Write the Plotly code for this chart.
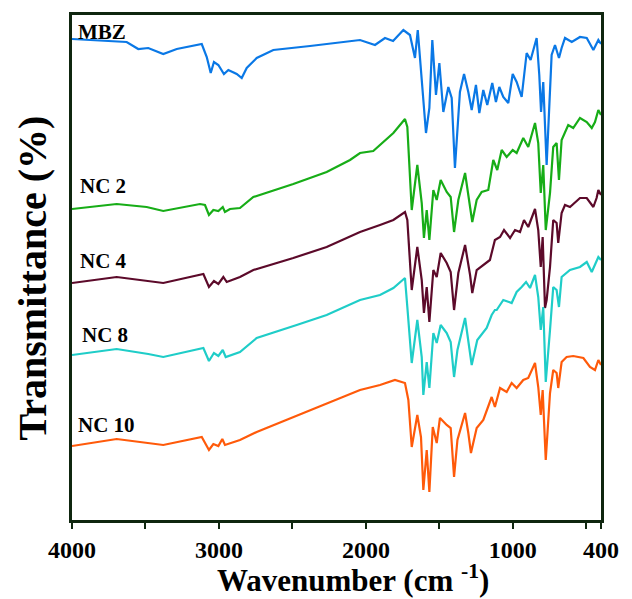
import plotly.graph_objects as go

# FTIR spectra (stacked, arbitrary transmittance offsets)
mbz_wn = [4000, 3628, 3549, 3481, 3379, 3287, 3117, 3083, 3056, 3034, 3004, 2966, 2936, 2879,
          2845, 2811, 2743, 2630, 2380, 2040, 1938, 1870, 1815, 1745, 1700, 1666, 1647, 1620,
          1591, 1568, 1548, 1523, 1500, 1473, 1439, 1416, 1394, 1360, 1332, 1303, 1280, 1251,
          1228, 1201, 1174, 1140, 1115, 1092, 1065, 1031, 1001, 974, 940, 906, 879, 838, 820,
          808, 793, 770, 736, 713, 686, 668, 645, 599, 543, 497, 452, 418, 400]
mbz_t = [481, 478, 471, 472, 466, 471, 476, 463, 447, 458, 455, 446, 450, 446,
         442, 452, 462, 470, 474, 480, 475, 482, 479, 490, 485, 462, 490, 438,
         387, 412, 480, 425, 457, 408, 433, 422, 352, 428, 446, 428, 410, 435,
         407, 430, 415, 437, 418, 433, 423, 417, 446, 438, 423, 467, 460, 482, 445,
         408, 438, 355, 465, 475, 462, 472, 482, 478, 483, 482, 470, 480, 476]

nc2_wn = [4000, 3696, 3492, 3379, 3129, 3095, 3068, 3038, 3004, 2974, 2959, 2925, 2857, 2766,
          2494, 2267, 2108, 2040, 1950, 1813, 1734, 1718, 1688, 1650, 1620, 1605, 1586, 1568,
          1541, 1518, 1491, 1450, 1423, 1400, 1371, 1325, 1291, 1276, 1246, 1212, 1167, 1133,
          1106, 1076, 1042, 1001, 974, 929, 895, 849, 827, 810, 793, 776, 747, 725, 702, 686,
          668, 623, 589, 543, 497, 463, 441, 418, 400]
nc2_t = [311, 316, 313, 309, 316, 315, 305, 310, 309, 313, 308, 311, 312, 323,
         336, 348, 360, 367, 369, 387, 401, 393, 310, 355, 317, 282, 310, 280,
         330, 320, 340, 328, 323, 288, 320, 347, 313, 298, 320, 328, 330, 360,
         350, 370, 363, 370, 367, 382, 373, 397, 377, 327, 355, 290, 327, 373, 377, 340,
         380, 395, 392, 402, 398, 392, 398, 410, 405]

nc4_wn = [4000, 3696, 3379, 3106, 3068, 3034, 3004, 2970, 2947, 2857, 2766, 2494, 2267, 2040,
          1904, 1813, 1734, 1718, 1688, 1650, 1620, 1605, 1586, 1568, 1541, 1518, 1491, 1450,
          1423, 1400, 1371, 1325, 1291, 1276, 1246, 1201, 1156, 1122, 1087, 1060, 1019, 985,
          951, 924, 895, 849, 827, 810, 797, 781, 770, 747, 725, 702, 691, 668, 645, 611,
          543, 497, 452, 430, 418, 400]
nc4_t = [237, 243, 237, 246, 233, 239, 236, 243, 238, 243, 250, 262, 273, 288,
         295, 300, 308, 300, 230, 273, 240, 207, 233, 198, 250, 243, 267, 257,
         248, 210, 247, 275, 245, 227, 250, 255, 260, 280, 283, 290, 282, 290,
         288, 300, 293, 311, 290, 253, 283, 212, 220, 253, 300, 297, 277, 307, 315, 313,
         322, 322, 313, 322, 330, 325]

nc8_wn = [4000, 3696, 3481, 3379, 3106, 3068, 3034, 3004, 2974, 2954, 2857, 2743, 2471, 2267,
          2040, 1904, 1813, 1734, 1718, 1688, 1650, 1620, 1609, 1586, 1568, 1541, 1518, 1491,
          1450, 1423, 1400, 1377, 1325, 1291, 1280, 1242, 1201, 1178, 1144, 1122, 1110, 1065,
          1008, 974, 940, 910, 883, 849, 827, 810, 793, 776, 747, 725, 702, 686, 668, 611,
          543, 497, 463, 441, 418, 400]
nc8_t = [165, 171, 166, 163, 172, 159, 167, 164, 170, 163, 168, 182, 195, 205,
         220, 225, 232, 242, 213, 157, 200, 163, 125, 158, 132, 187, 177, 195,
         187, 178, 143, 170, 202, 163, 155, 180, 187, 192, 205, 210, 210, 220,
         217, 228, 233, 238, 232, 245, 223, 190, 213, 138, 190, 233, 230, 213, 243, 250,
         253, 258, 248, 255, 263, 260]

nc10_wn = [4000, 3696, 3379, 3117, 3068, 3038, 3004, 2977, 2959, 2857, 2743, 2380, 2040, 1904,
           1802, 1734, 1711, 1688, 1650, 1625, 1609, 1586, 1568, 1545, 1518, 1496, 1450, 1423,
           1400, 1377, 1325, 1303, 1285, 1246, 1201, 1144, 1122, 1087, 1042, 1008, 974, 929,
           895, 849, 827, 810, 797, 776, 747, 725, 702, 691, 668, 634, 589, 520, 475, 441,
           418, 400]
nc10_t = [74, 81, 75, 83, 70, 76, 74, 81, 75, 80, 88, 110, 130, 135,
          140, 137, 120, 73, 105, 83, 30, 70, 28, 93, 77, 102, 95, 92,
          43, 80, 107, 87, 67, 92, 100, 123, 113, 132, 128, 137, 132, 140,
          142, 157, 133, 105, 130, 60, 127, 150, 147, 132, 158, 163, 164, 162, 153, 150,
          160, 155]

series = [
    ("MBZ", mbz_wn, mbz_t, "#0a78e6"),
    ("NC 2", nc2_wn, nc2_t, "#17ad17"),
    ("NC 4", nc4_wn, nc4_t, "#5c0a2a"),
    ("NC 8", nc8_wn, nc8_t, "#1fcdc8"),
    ("NC 10", nc10_wn, nc10_t, "#ff5a0a"),
]

# label anchor positions (paper coordinates)
label_pos = {"MBZ": (0.008, 0.966), "NC 2": (0.012, 0.661), "NC 4": (0.012, 0.512),
             "NC 8": (0.015, 0.367), "NC 10": (0.008, 0.189)}

tick_vals = [4000, 3000, 2000, 1000, 400]
tick_text = ["<b>4000</b>", "<b>3000</b>", "<b>2000</b>", "<b>1000</b>", "<b>400</b>"]

serif = "Liberation Serif, Times New Roman, serif"
frame = "#0f260f"

fig = go.Figure()
for name, wn, t, color in series:
    fig.add_trace(go.Scatter(x=wn, y=t, mode="lines", name=name,
                             line=dict(color=color, width=2.2), showlegend=False))

annotations = []
for name, _, _, _ in series:
    px, py = label_pos[name]
    annotations.append(dict(text=f"<b>{name}</b>", x=px, y=py, xref="paper", yref="paper",
                            xanchor="left", yanchor="middle", showarrow=False,
                            font=dict(family=serif, size=21, color="black")))

annotations.append(dict(text="<b>Transmittance (%)</b>", x=-0.074, y=0.48, xref="paper",
                        yref="paper", textangle=-90, showarrow=False,
                        xanchor="center", yanchor="middle",
                        font=dict(family=serif, size=40, color="black")))
annotations.append(dict(text="<b>Wavenumber (cm <sup>-1</sup>)</b>", x=0.531, y=-0.115,
                        xref="paper", yref="paper", showarrow=False,
                        xanchor="center", yanchor="middle",
                        font=dict(family=serif, size=31, color="black")))

fig.update_layout(
    width=632, height=599,
    margin=dict(l=72, r=31, t=15, b=79),
    paper_bgcolor="white", plot_bgcolor="white",
    annotations=annotations,
)
fig.update_xaxes(range=[4000, 400], tickvals=tick_vals, ticktext=tick_text,
                 ticks="outside", ticklen=6, tickwidth=1.5, tickcolor=frame,
                 tickfont=dict(family=serif, size=24, color="black"),
                 showline=True, linewidth=3, linecolor=frame, mirror=True,
                 showgrid=False, zeroline=False,
                 minor=dict(dtick=500, tick0=0, ticks="outside", ticklen=6,
                            tickcolor=frame, tickwidth=1.5))
fig.update_yaxes(range=[0, 505], showticklabels=False, ticks="",
                 showline=True, linewidth=3, linecolor=frame, mirror=True,
                 showgrid=False, zeroline=False)

fig.write_html("out.html")
